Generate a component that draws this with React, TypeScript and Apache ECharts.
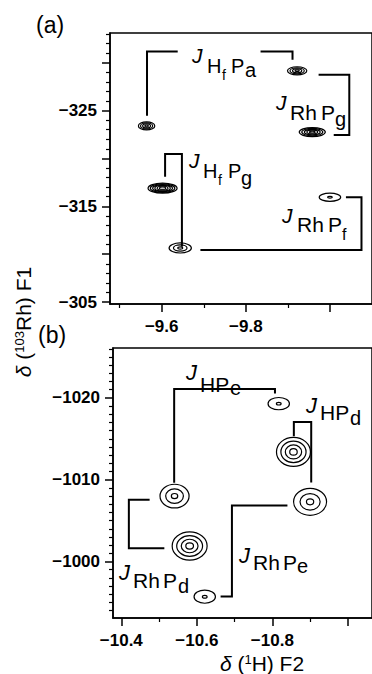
import React, { useEffect, useRef } from 'react';
import * as echarts from 'echarts';

// ---------- DATA ----------
// Panel (a): cross peaks (1H shift F2 / ppm, 103Rh shift F1 / ppm), line widths (ppm) and contour levels
const peaksA_H = [-9.564, -9.922, -9.958, -9.602, -10.0, -9.644];
const peaksA_Rh = [-323.4, -329.15, -322.75, -316.9, -315.95, -310.65];
const peaksA_wH = [0.039, 0.046, 0.062, 0.069, 0.051, 0.053];
const peaksA_wRh = [0.85, 0.85, 0.95, 1.05, 0.85, 1.05];
const peaksA_levels = [4, 4, 5, 6, 2, 3];

// Panel (b)
const peaksB_H = [-10.817, -10.856, -10.541, -10.9, -10.581, -10.621];
const peaksB_Rh = [-1019.3, -1013.4, -1008.0, -1007.3, -1001.9, -995.7];
const peaksB_wH = [0.0566, 0.09, 0.077, 0.0874, 0.0926, 0.0566];
const peaksB_wRh = [1.5, 3.55, 2.9, 3.3, 3.43, 1.6];
const peaksB_levels = [2, 4, 3, 3, 4, 2];

// Coupling brackets (data coordinates)
const bracketsA = [
  [[-9.565, -324.45], [-9.565, -331.17], [-9.638, -331.17]],
  [[-9.835, -331.17], [-9.911, -331.17], [-9.911, -330.3]],
  [[-9.973, -328.73], [-10.046, -328.73], [-10.046, -322.46], [-10.009, -322.46]],
  [[-9.608, -318.1], [-9.608, -320.47], [-9.648, -320.47], [-9.648, -310.78]],
  [[-10.038, -315.95], [-10.075, -315.95], [-10.075, -310.44], [-9.692, -310.44]],
];
const bracketsB = [
  [[-10.54, -1009.63], [-10.54, -1021.1], [-10.807, -1021.1], [-10.807, -1020.53]],
  [[-10.857, -1015.3], [-10.857, -1017.06], [-10.903, -1017.06], [-10.903, -1009.67]],
  [[-10.475, -1007.55], [-10.42, -1007.55], [-10.42, -1001.64], [-10.514, -1001.64]],
  [[-10.84, -1006.85], [-10.693, -1006.85], [-10.693, -995.72], [-10.663, -995.72]],
];

// Axes
const xRangeA = [-10.1, -9.477];
const yRangeA = [-333.1, -304.8];
const xRangeB = [-11.064, -10.378];
const yRangeB = [-1026.1, -993.1];

const xMajorA = [-9.6, -9.8, -10.0];
const xMinorA = [-9.5, -9.7, -9.9];
const xLabelsA = [-9.6, -9.8];
const yMajorA = [-330, -325, -320, -315, -310, -305];
const yLabelsA = [-325, -315, -305];

const xMajorB = [-10.4, -10.6, -10.8, -11.0];
const xMinorB = [-10.5, -10.7, -10.9];
const xLabelsB = [-10.4, -10.6, -10.8];
const yMajorB = [-1020, -1010, -1000];
const yLabelsB = [-1020, -1010, -1000];

function steps(a: number, b: number, skipEvery: number) {
  const out: number[] = [];
  for (let v = a; v <= b; v++) if (v % skipEvery !== 0) out.push(v);
  return out;
}
const yMinorA = steps(-333, -305, 5);
const yMinorB = steps(-1026, -994, 10);

// ---------- STYLE ----------
const FONT = '"Liberation Sans", Arial, Helvetica, sans-serif';
const fmt = (v: number) => (v < 0 ? '\u2212' : '') + String(Math.abs(v));

function xAxes(grid: number, range: number[], major: number[], minor: number[], labels: number[], margin: number) {
  return [
    {
      type: 'value', gridIndex: grid, min: range[0], max: range[1], inverse: true, position: 'bottom',
      axisLine: { show: true, onZero: false, lineStyle: { color: '#000', width: 1.5 } },
      axisTick: { show: true, customValues: major, length: 8, lineStyle: { color: '#000', width: 1.5 } },
      axisLabel: { show: true, customValues: labels, formatter: fmt, margin, color: '#000', fontSize: 17, fontWeight: 'bold', fontFamily: FONT },
      splitLine: { show: false },
    },
    {
      type: 'value', gridIndex: grid, min: range[0], max: range[1], inverse: true, position: 'bottom',
      axisLine: { show: false, onZero: false },
      axisTick: { show: true, customValues: minor, length: 4, lineStyle: { color: '#000', width: 1.2 } },
      axisLabel: { show: false },
      splitLine: { show: false },
    },
  ];
}
function yAxes(grid: number, range: number[], major: number[], minor: number[], labels: number[]) {
  return [
    {
      type: 'value', gridIndex: grid, min: range[0], max: range[1], inverse: true, position: 'left',
      axisLine: { show: true, onZero: false, lineStyle: { color: '#000', width: 1.5 } },
      axisTick: { show: true, customValues: major, length: 8, lineStyle: { color: '#000', width: 1.5 } },
      axisLabel: { show: true, customValues: labels, formatter: fmt, margin: 13, color: '#000', fontSize: 17, fontWeight: 'bold', fontFamily: FONT },
      splitLine: { show: false },
    },
    {
      type: 'value', gridIndex: grid, min: range[0], max: range[1], inverse: true, position: 'left',
      axisLine: { show: false, onZero: false },
      axisTick: { show: true, customValues: minor, length: 4, lineStyle: { color: '#000', width: 1.2 } },
      axisLabel: { show: false },
      splitLine: { show: false },
    },
  ];
}

const renderPeak = (params: any, api: any) => {
  const c = api.coord([api.value(0), api.value(1)]);
  const s = api.size([api.value(2), api.value(3)]);
  const n = api.value(4);
  const children: any[] = [];
  for (let k = 0; k < n; k++) {
    const f = n > 1 ? 1 - (k * 0.78) / (n - 1) : 1;
    children.push({
      type: 'ellipse',
      shape: { cx: c[0], cy: c[1], rx: Math.max(1, (s[0] / 2) * f), ry: Math.max(0.8, (s[1] / 2) * f) },
      style: { fill: 'none', stroke: '#000', lineWidth: 1.2 },
    });
  }
  return { type: 'group', children };
};

function peakData(h: number[], rh: number[], wh: number[], wrh: number[], lv: number[]) {
  return h.map((v, i) => [v, rh[i], wh[i], wrh[i], lv[i]]);
}

// text fragment: [text, x, baseline, size, italic]
type Frag = [string, number, number, number, boolean?];
function frags(list: Frag[]) {
  return list.map(([t, x, base, size, it]) => ({
    type: 'text',
    x,
    y: base - 0.3465 * size,
    silent: true,
    style: {
      text: t,
      font: `${it ? 'italic ' : ''}${size}px ${FONT}`,
      fill: '#000',
      align: 'left', textAlign: 'left',
      verticalAlign: 'middle', textVerticalAlign: 'middle',
    },
  }));
}

const labelFrags: Frag[] = [
  // panel a
  ['(a)', 36, 33, 23],
  ['J', 192, 63, 21, true], ['H', 207, 73, 20], ['f', 222, 80, 14], ['P', 231, 73, 20], ['a', 245, 77, 20],
  ['J', 276, 110, 21, true], ['Rh', 290, 120, 21], ['P', 321, 120, 21], ['g', 335, 126, 20],
  ['J', 189, 168, 21, true], ['H', 203, 178, 20], ['f', 218, 185, 14], ['P', 228, 178, 20], ['g', 241, 185, 20],
  ['J', 282, 223, 21, true], ['Rh', 297, 231.7, 21], ['P', 328, 231.7, 21], ['f', 342, 240, 16],
  // panel b
  ['(b)', 38, 343, 23],
  ['J', 186, 380, 22, true], ['HP', 200, 392, 21], ['e', 230, 395, 20],
  ['J', 306, 413, 22, true], ['HP', 320, 420, 21], ['d', 350, 425, 20],
  ['J', 119, 580, 22, true], ['Rh', 133, 588, 21], ['P', 163, 588, 21], ['d', 178, 593, 20],
  ['J', 239, 563, 22, true], ['Rh', 253, 570, 21], ['P', 283, 570, 21], ['e', 297, 573, 20],
];

export default function App() {
  const ref = useRef<HTMLDivElement>(null);
  useEffect(() => {
    if (!ref.current) return;
    const chart = echarts.init(ref.current, null, { renderer: 'svg' });
    const titleRich = {
      n: { fontSize: 21, lineHeight: 21, fontFamily: FONT, color: '#000' },
      i: { fontSize: 21, lineHeight: 21, fontFamily: FONT, fontStyle: 'italic', color: '#000' },
      s: { fontSize: 13, lineHeight: 13, fontFamily: FONT, color: '#000', verticalAlign: 'top' },
    };
    chart.setOption({
      animation: false,
      backgroundColor: '#fff',
      grid: [
        { left: 110, top: 33, width: 270, height: 271, show: true, borderColor: '#000', borderWidth: 1.5, backgroundColor: 'transparent' },
        { left: 113, top: 348, width: 267, height: 270, show: true, borderColor: '#000', borderWidth: 1.5, backgroundColor: 'transparent' },
      ],
      xAxis: [...xAxes(0, xRangeA, xMajorA, xMinorA, xLabelsA, 14), ...xAxes(1, xRangeB, xMajorB, xMinorB, xLabelsB, 14)],
      yAxis: [...yAxes(0, yRangeA, yMajorA, yMinorA, yLabelsA), ...yAxes(1, yRangeB, yMajorB, yMinorB, yLabelsB)],
      series: [
        { type: 'custom', xAxisIndex: 0, yAxisIndex: 0, silent: true, renderItem: renderPeak, data: peakData(peaksA_H, peaksA_Rh, peaksA_wH, peaksA_wRh, peaksA_levels) },
        { type: 'custom', xAxisIndex: 2, yAxisIndex: 2, silent: true, renderItem: renderPeak, data: peakData(peaksB_H, peaksB_Rh, peaksB_wH, peaksB_wRh, peaksB_levels) },
        { type: 'lines', coordinateSystem: 'cartesian2d', xAxisIndex: 0, yAxisIndex: 0, polyline: true, silent: true, lineStyle: { color: '#000', width: 2, opacity: 1 }, data: bracketsA.map((c) => ({ coords: c })) },
        { type: 'lines', coordinateSystem: 'cartesian2d', xAxisIndex: 2, yAxisIndex: 2, polyline: true, silent: true, lineStyle: { color: '#000', width: 2, opacity: 1 }, data: bracketsB.map((c) => ({ coords: c })) },
      ],
      graphic: [
        ...frags(labelFrags),
        {
          type: 'text', x: 262, y: 663, silent: true,
          style: { text: '{i|δ} ({s|1}{n|H) F2}', rich: titleRich, align: 'center', verticalAlign: 'middle', textAlign: 'center', textVerticalAlign: 'middle', font: `21px ${FONT}` },
        },
        {
          type: 'text', x: 23, y: 322, rotation: Math.PI / 2, silent: true,
          style: { text: '{i|δ} ({s|103}{n|Rh) F1}', rich: titleRich, align: 'center', verticalAlign: 'middle', textAlign: 'center', textVerticalAlign: 'middle', font: `21px ${FONT}` },
        },
      ],
    });
    return () => chart.dispose();
  }, []);
  return <div ref={ref} style={{ position: 'absolute', left: 0, top: 0, width: 372, height: 674 }} />;
}
